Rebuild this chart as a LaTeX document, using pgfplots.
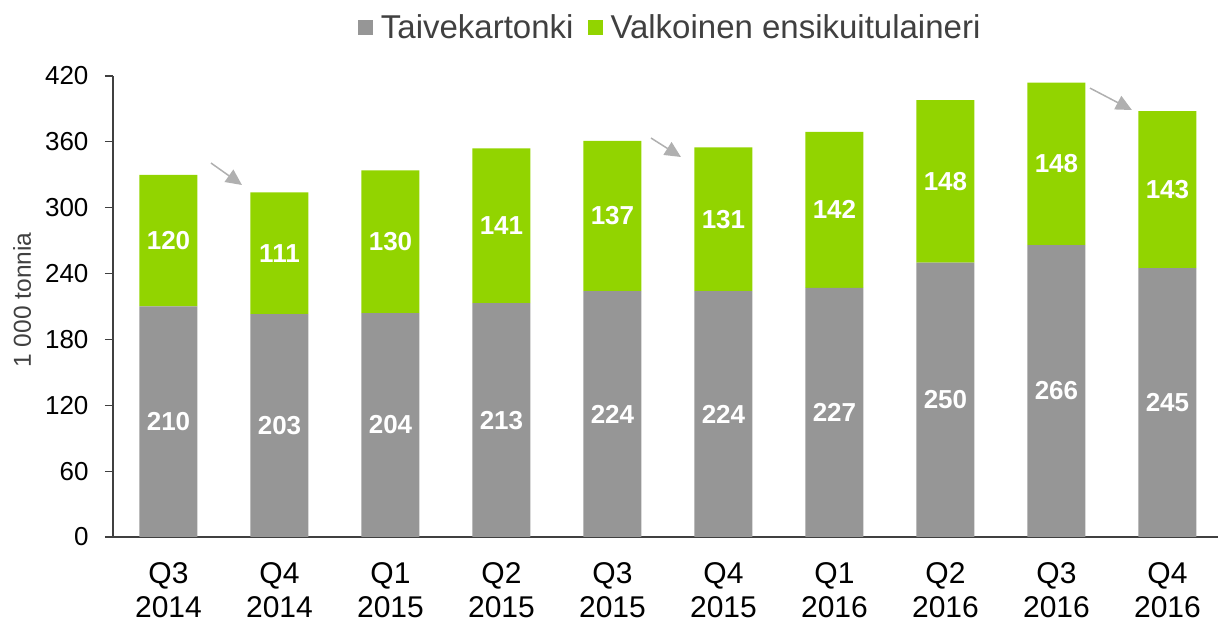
\documentclass[border=0pt]{standalone}
\usepackage{fontspec}
\setmainfont{Liberation Sans}
\usepackage{pgfplots}
\pgfplotsset{compat=1.18}
\usepackage{pgfplotstable}
\usetikzlibrary{arrows.meta}
\definecolor{cgray}{HTML}{969696}
\definecolor{cgreen}{HTML}{92D400}
\definecolor{caxis}{HTML}{404040}
\definecolor{carrow}{HTML}{B0B0B0}
\pgfplotsset{/pgf/number format/assume math mode=true}
\pgfplotstableread{
x a b
0 210 120
1 203 111
2 204 130
3 213 141
4 224 137
5 224 131
6 227 142
7 250 148
8 266 148
9 245 143
}\data
\begin{document}
\begin{tikzpicture}
\begin{axis}[
  scale only axis, width=1110pt, height=461pt,
  xmin=-0.5, xmax=9.5, ymin=0, ymax=420,
  ybar stacked, bar width=58pt,
  axis x line*=bottom, axis y line*=left,
  axis line style={caxis, line width=1.8pt},
  ytick={0,60,...,420},
  tick align=outside,
  ytick style={caxis, line width=1.2pt},
  major tick length=8pt,
  yticklabel style={font=\fontsize{26}{30}\selectfont, xshift=-13pt},
  xtick={0,...,9},
  xticklabels={{Q3\\2014},{Q4\\2014},{Q1\\2015},{Q2\\2015},{Q3\\2015},{Q4\\2015},{Q1\\2016},{Q2\\2016},{Q3\\2016},{Q4\\2016}},
  xticklabel style={align=center, font=\fontsize{30}{34.5}\selectfont, yshift=-16pt, inner sep=1pt},
  x tick style={draw=none},
  extra x ticks={-0.5,0.5,...,9.5}, extra x tick labels={},
  extra x tick style={tick style={caxis, line width=1.2pt, draw=caxis}, major tick length=10pt},
  ylabel={1 000 tonnia},
  every axis y label/.style={at={(axis description cs:0,0.514)}, xshift=-91pt, rotate=90, anchor=center, font=\fontsize{24.5}{28}\selectfont, text=caxis},
  legend columns=2,
  legend image code/.code={\fill[#1] (0pt,-8pt) rectangle (15pt,7pt); \path (21pt,0pt);},
  legend style={draw=none, fill=none, at={(0.502,1.106)}, anchor=center, font=\fontsize{33}{38}\selectfont, text=caxis, /tikz/every even column/.append style={column sep=12pt}},
  clip=false,
]
\addplot[fill=cgray, draw=none] table[x=x, y=a] {\data};
\addplot[fill=cgreen, draw=none] table[x=x, y=b] {\data};
\legend{Taivekartonki, Valkoinen ensikuitulaineri}
\draw[carrow, line width=1.5pt, -{Triangle[length=16pt,width=15pt]}] (axis cs:0.383,340.7) -- (axis cs:0.662,320.7);
\draw[carrow, line width=1.5pt, -{Triangle[length=16pt,width=15pt]}] (axis cs:4.347,363.5) -- (axis cs:4.617,346.2);
\draw[carrow, line width=1.5pt, -{Triangle[length=16pt,width=15pt]}] (axis cs:8.302,409) -- (axis cs:8.68,389);
\end{axis}
\begin{axis}[
  scale only axis, width=1110pt, height=461pt,
  xmin=-0.5, xmax=9.5, ymin=0, ymax=420,
  hide axis, clip=false,
]
\addplot[draw=none, mark=none, nodes near coords, point meta=explicit,
  every node near coord/.append style={anchor=center, text=white, font=\bfseries\fontsize{26}{30}\selectfont}]
  table[x=x, y expr=\thisrow{a}/2, meta=a] {\data};
\addplot[draw=none, mark=none, nodes near coords, point meta=explicit,
  every node near coord/.append style={anchor=center, text=white, font=\bfseries\fontsize{26}{30}\selectfont}]
  table[x=x, y expr=\thisrow{a}+\thisrow{b}/2, meta=b] {\data};
\end{axis}
\pgfresetboundingbox
\useasboundingbox (-113pt,-86pt) rectangle (1105pt,537pt);
\end{tikzpicture}
\end{document}
